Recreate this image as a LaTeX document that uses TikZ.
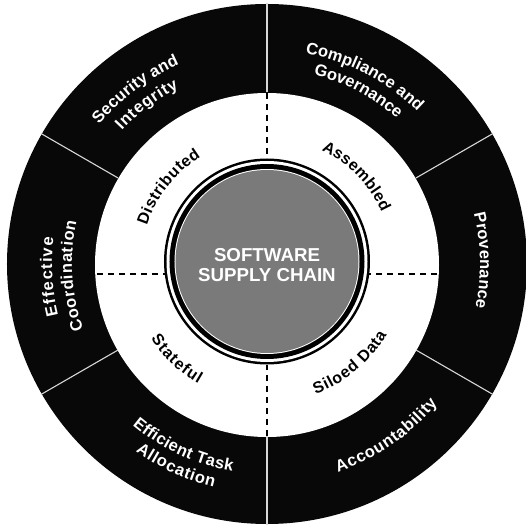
\documentclass[tikz,border=0pt]{standalone}
\usepackage{fontspec}
\setmainfont{Liberation Sans}
\usetikzlibrary{decorations.text}
\definecolor{ringblack}{RGB}{8,8,8}
\definecolor{coregray}{RGB}{122,122,122}
\definecolor{divider}{RGB}{215,215,215}
\newcommand\ringtext[6]{%
  \path[decorate, decoration={text along path, text align=fit to path,
    text color=#4, text={|\bfseries\fontsize{#5}{#5}\selectfont|#6}}]
    (#2:#1) arc[start angle=#2, end angle=#3, radius=#1];}
\begin{document}
\begin{tikzpicture}[x=1pt,y=1pt,
  divline/.style={draw=divider, line width=1.1pt},
  dashline/.style={draw=black, line width=1.4pt, dash pattern=on 6pt off 5pt}]
\useasboundingbox (-267,-265) rectangle (258,264);
% rings
\fill[ringblack] (0,0) circle[radius=260];
\fill[white] (0,-1) circle[radius=172];
% dividers in black ring
\foreach \a in {30,90,150,210,270,330}
  \draw[divline] (\a:172) -- (\a:261);
% dashed separators in white ring
\coordinate (vt1) at (0,171); \coordinate (vt2) at (0,107);
\coordinate (vb1) at (0,-172); \coordinate (vb2) at (0,-101);
\coordinate (hl1) at (-170,-10); \coordinate (hl2) at (-102,-10);
\coordinate (hr1) at (170,-10); \coordinate (hr2) at (102,-10);
\draw[dashline] (vt1) -- (vt2);
\draw[dashline] (vb1) -- (vb2);
\draw[dashline] (hl1) -- (hl2);
\draw[dashline] (hr1) -- (hr2);
% core
\begin{scope}[shift={(0,2.5)}]
\fill[black] (0,0) circle[radius=103];
\fill[white] (0,0) circle[radius=100.5];
\fill[black] (0,0) circle[radius=97.5];
\fill[white] (0,0) circle[radius=92.5];
\fill[coregray] (0,0) circle[radius=91.5];
\end{scope}
\node[text=white, font=\bfseries\fontsize{18.7}{20.5}\selectfont, align=center] (title) at (0,-1) {SOFTWARE\\SUPPLY CHAIN};
% outer labels
\ringtext{218}{140.3}{113.7}{white}{16.5}{Security and}
\ringtext{197}{137.4}{116.6}{white}{16.5}{Integrity}
\ringtext{214}{79.7}{45.3}{white}{16.5}{Compliance and}
\ringtext{195}{76.2}{48.4}{white}{16.5}{Governance}
\ringtext{213}{13.8}{-11.8}{white}{16.5}{Provenance}
\ringtext{215}{193.8}{173}{white}{16.5}{Effective}
\ringtext{195}{199.7}{167.3}{white}{16.5}{Coordination}
\ringtext{210}{230.1}{260.5}{white}{16.5}{Efficient Task}
\ringtext{229}{235}{256.6}{white}{16.5}{Allocation}
\ringtext{220}{288.8}{320.8}{white}{16.5}{Accountability}
% inner labels
\ringtext{126}{162.3}{121.7}{black}{16}{Distributed}
\ringtext{126}{64.4}{24.4}{black}{16}{Assembled}
\ringtext{138}{212.8}{240.2}{black}{16}{Stateful}
\ringtext{139}{290.5}{329.5}{black}{16}{Siloed Data}
\end{tikzpicture}
\end{document}
